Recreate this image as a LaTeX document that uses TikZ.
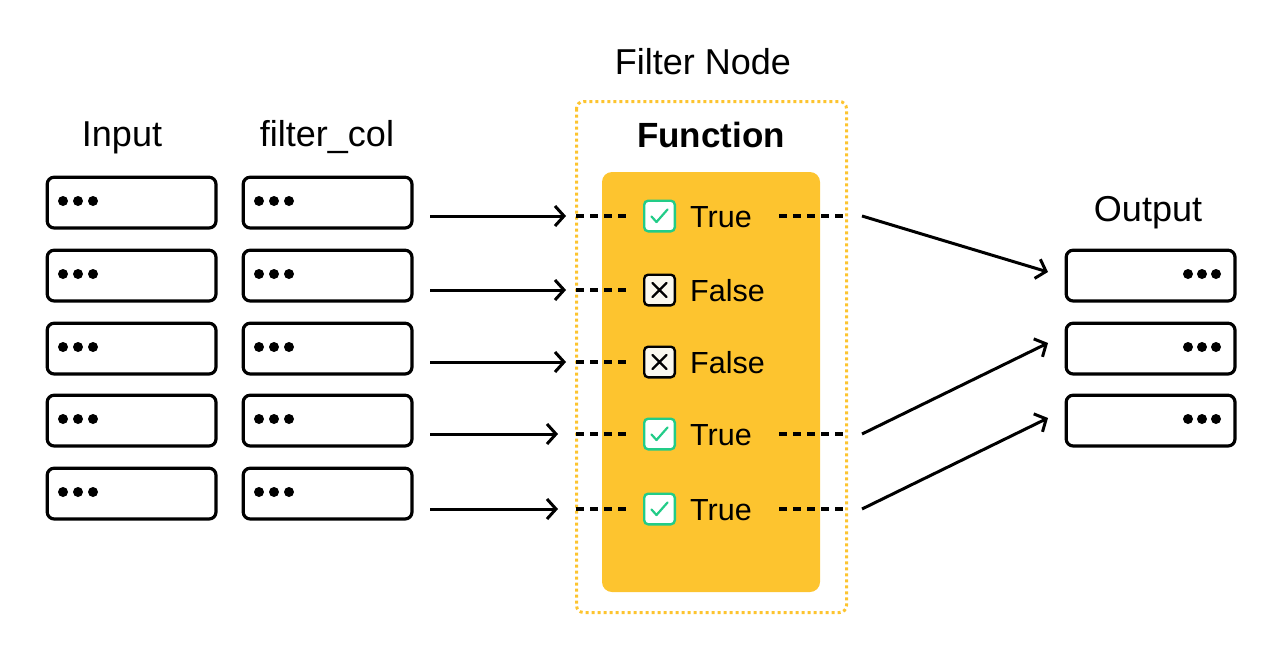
\documentclass[tikz,border=0pt]{standalone}
\usepackage{fontspec}
\setmainfont{Liberation Sans}
\usetikzlibrary{arrows.meta}
\definecolor{fyellow}{RGB}{253,196,47}
\definecolor{fgreen}{RGB}{34,204,136}
\definecolor{fcream}{RGB}{250,248,238}
\begin{document}
\begin{tikzpicture}[x=1pt,y=-1pt,
  rowbox/.style={draw, line width=3.2pt, rounded corners=7pt, minimum width=168.8pt, minimum height=50.8pt, inner sep=0pt, anchor=north west},
  lbl/.style={font=\fontsize{36}{40}\selectfont, inner sep=0pt, anchor=base},
  valtxt/.style={font=\fontsize{30.5}{34}\selectfont, inner sep=0pt, anchor=base west},
  okbox/.style={draw=fgreen, fill=white, line width=2.4pt, rounded corners=4pt, minimum width=30.6pt, minimum height=30.6pt, inner sep=0pt},
  nobox/.style={draw=black, fill=fcream, line width=2.4pt, rounded corners=4pt, minimum width=30.6pt, minimum height=30.6pt, inner sep=0pt},
  arr/.style={line width=3pt, -{Straight Barb[length=9pt,width=20pt]}},
  dsh/.style={line width=3.2pt, dash pattern=on 8pt off 6pt},
]
\useasboundingbox (0,0) rectangle (1280,654);

% labels
\node[lbl] (linput) at (122,146) {Input};
\node[lbl] (lfilter) at (327,146) {filter\_col};
\node[lbl] (lnode) at (703,74) {Filter Node};
\node[lbl, font=\fontsize{35}{40}\selectfont\bfseries] (lfunc) at (711,147) {Function};
\node[lbl] (lout) at (1148,221) {Output};

% filter node frame
\draw[fyellow, line width=3pt, dash pattern=on 3pt off 3pt, rounded corners=7pt] (576.5,101.5) rectangle (846.5,612.5);
\fill[fyellow, rounded corners=10pt] (602,172) rectangle (820,592);

% input and filter_col boxes
\foreach \i/\y in {1/174,2/247,3/320,4/392,5/465}{
  \node[rowbox] (in\i) at (45.6,\y+1.6) {};
  \node[rowbox] (fc\i) at (241.6,\y+1.6) {};
  \foreach \dx in {63,78,93}{
    \fill (\dx,\y+27) circle (5);
    \fill (\dx+196,\y+27) circle (5);
  }
}
% output boxes
\foreach \i/\y in {1/247,2/320,3/392}{
  \node[rowbox] (out\i) at (1064.6,\y+1.6) {};
  \foreach \dx in {1188,1202,1216}{
    \fill (\dx,\y+27) circle (5);
  }
}

% function rows
\foreach \i/\y/\ok in {1/216/1,2/290/0,3/362/0,4/434/1,5/509/1}{
  \ifnum\ok=1
    \node[okbox] (ic\i) at (659.5,\y) {};
    \draw[fgreen, line width=2.2pt, line cap=round, line join=round] (651.5,\y+0.5) -- (656.5,\y+6) -- (667.5,\y-6.5);
    \node[valtxt] (v\i) at (690,\y+11) {True};
  \else
    \node[nobox] (ic\i) at (659.5,\y) {};
    \draw[black, line width=2.2pt, line cap=round] (652.5,\y-7) -- (666.5,\y+7) (652.5,\y+7) -- (666.5,\y-7);
    \node[valtxt] (v\i) at (690,\y+11) {False};
  \fi
  \coordinate (s\i) at (430,\y);
  \coordinate (dl\i) at (576,\y);
}
\coordinate (t1) at (566,216);
\coordinate (t2) at (566,290);
\coordinate (t3) at (566,362);
\coordinate (t4) at (558,434);
\coordinate (t5) at (558,509);

\foreach \i in {1,...,5}{
  \draw[arr] (s\i) -- (t\i);
  \draw[dsh] (dl\i) -- ([xshift=-12pt]ic\i.west);
}
% right dashes for true rows
\foreach \i/\y in {1/216,4/434,5/509}{
  \coordinate (dr\i) at (779,\y);
  \coordinate (de\i) at (848,\y);
  \coordinate (os\i) at (862,\y);
  \draw[dsh] (dr\i) -- (de\i);
}
\coordinate (ot1) at (1048,272);
\coordinate (ot4) at (1048,343);
\coordinate (ot5) at (1048,418);
\draw[arr] (os1) -- (ot1);
\draw[arr] (os4) -- (ot4);
\draw[arr] (os5) -- (ot5);
\end{tikzpicture}
\end{document}
